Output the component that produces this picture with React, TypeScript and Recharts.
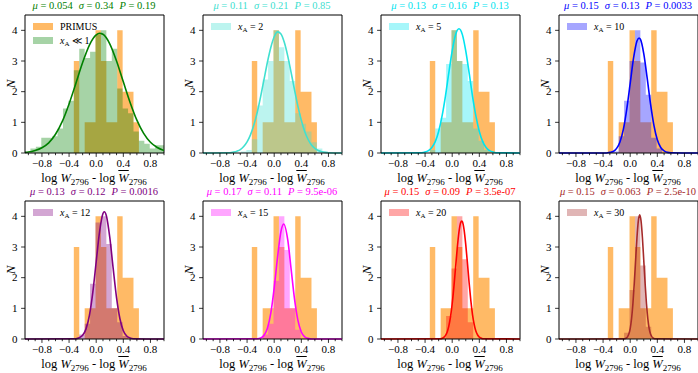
import React from "react"
import { Area, ComposedChart, Legend, Line, ReferenceLine, XAxis, YAxis } from "recharts"

const FONT = "'Liberation Serif', 'Times New Roman', Times, 'DejaVu Serif', serif"

// axis ranges
const X_MIN = -1.05
const X_MAX = 1.0
const Y_MAX = 4.5

const xMajorTicks = [-0.8, -0.4, 0, 0.4, 0.8]
const xAllTicks = [-1.0, -0.9, -0.8, -0.7, -0.6, -0.5, -0.4, -0.3, -0.2, -0.1, 0, 0.1, 0.2, 0.3, 0.4, 0.5, 0.6, 0.7, 0.8, 0.9, 1.0]
const yTicks = [0, 1, 2, 3, 4]

// histogram bin edges (shared by all panels)
const binEdges = [
  -1.05, -0.97, -0.89, -0.81, -0.73, -0.65, -0.57, -0.49, -0.41, -0.33, -0.25, -0.17, -0.09,
  -0.01, 0.07, 0.15, 0.23, 0.31, 0.39, 0.47, 0.55, 0.63, 0.71, 0.79, 0.87, 0.95, 1.03,
]

// observed PRIMUS counts
const primusCounts = [0, 0, 0, 0, 0, 0, 0, 0, 0, 3, 0, 1, 1, 4, 3, 1, 1, 4, 2, 2, 1, 0, 0, 0, 0, 0]

// model histograms (normalised counts)
const modelLow = [0, 0.15, 0.2, 0.5, 0.5, 0.55, 0.8, 1.45, 1.7, 2.7, 3.4, 3.1, 3.3, 3.85, 4.0, 3.0, 3.4, 2.1, 1.45, 1.3, 0.7, 0.4, 0.3, 0.15, 0.25, 0.25]
const model2 = [0, 0, 0, 0, 0, 0, 0, 0.05, 0.1, 0.45, 1.55, 2.4, 3.0, 4.0, 3.45, 3.0, 2.35, 1.3, 0.95, 0.7, 0.35, 0.15, 0.05, 0, 0, 0]
const model5 = [0, 0, 0, 0, 0, 0, 0, 0, 0, 0.1, 0.8, 1.15, 2.9, 4.0, 3.0, 2.9, 2.35, 0.8, 0.4, 0.1, 0, 0, 0, 0, 0, 0]
const model10 = [0, 0, 0, 0, 0, 0, 0, 0, 0, 0, 0.05, 0.55, 1.7, 3.0, 4.0, 2.95, 1.9, 0.5, 0.15, 0, 0, 0, 0, 0, 0, 0]
const model12 = [0, 0, 0, 0, 0, 0, 0, 0, 0, 0, 0.15, 0.5, 1.8, 3.8, 4.0, 3.1, 1.0, 0.55, 0.1, 0, 0, 0, 0, 0, 0, 0]
const model15 = [0, 0, 0, 0, 0, 0, 0, 0, 0, 0, 0, 0.15, 0.5, 1.9, 4.0, 2.9, 1.0, 0.3, 0, 0, 0, 0, 0, 0, 0, 0]
const model20 = [0, 0, 0, 0, 0, 0, 0, 0, 0, 0, 0, 0.05, 0.75, 2.3, 4.0, 2.6, 0.55, 0, 0, 0, 0, 0, 0, 0, 0, 0]
const model30 = [0, 0, 0, 0, 0, 0, 0, 0, 0, 0, 0, 0, 0.2, 1.6, 4.0, 2.4, 0.4, 0, 0, 0, 0, 0, 0, 0, 0, 0]

// fitted curves
const fitLowX = [-1.05, -1.0, -0.9, -0.8, -0.7, -0.6, -0.5, -0.4, -0.3, -0.2, -0.1, 0, 0.05, 0.1, 0.2, 0.3, 0.4, 0.5, 0.6, 0.7, 0.8, 0.9, 1.0]
const fitLowY = [0.02, 0.03, 0.08, 0.17, 0.33, 0.61, 1.03, 1.6, 2.27, 2.95, 3.52, 3.85, 3.9, 3.87, 3.56, 3.0, 2.32, 1.65, 1.07, 0.64, 0.35, 0.18, 0.08]
const fit2X = [-1.05, -0.7, -0.65, -0.6, -0.55, -0.5, -0.45, -0.4, -0.35, -0.3, -0.25, -0.2, -0.15, -0.1, -0.05, 0, 0.05, 0.1, 0.15, 0.2, 0.25, 0.3, 0.35, 0.4, 0.45, 0.5, 0.55, 0.6, 0.65, 0.7, 0.75, 0.8, 1.0]
const fit2Y = [0, 0.01, 0.01, 0.03, 0.06, 0.11, 0.21, 0.36, 0.59, 0.91, 1.33, 1.84, 2.4, 2.96, 3.44, 3.79, 3.95, 3.88, 3.6, 3.16, 2.62, 2.06, 1.52, 1.07, 0.7, 0.44, 0.26, 0.15, 0.08, 0.04, 0.02, 0.01, 0]
const fit5X = [-1.05, -0.45, -0.4, -0.35, -0.3, -0.25, -0.2, -0.15, -0.1, -0.05, 0, 0.05, 0.1, 0.15, 0.2, 0.25, 0.3, 0.35, 0.4, 0.45, 0.5, 0.55, 0.6, 0.65, 1.0]
const fit5Y = [0, 0.01, 0.03, 0.08, 0.18, 0.37, 0.7, 1.2, 1.85, 2.61, 3.33, 3.86, 4.05, 3.86, 3.33, 2.61, 1.85, 1.2, 0.7, 0.37, 0.18, 0.08, 0.03, 0.01, 0]
const fit10X = [-1.05, -0.35, -0.3, -0.25, -0.2, -0.15, -0.1, -0.05, 0, 0.05, 0.1, 0.13, 0.15, 0.2, 0.25, 0.3, 0.35, 0.4, 0.45, 0.5, 0.55, 0.6, 1.0]
const fit10Y = [0, 0, 0.02, 0.05, 0.15, 0.37, 0.78, 1.44, 2.27, 3.1, 3.65, 3.75, 3.71, 3.24, 2.45, 1.6, 0.9, 0.43, 0.18, 0.07, 0.02, 0.01, 0]
const fit12X = [-1.05, -0.3, -0.25, -0.2, -0.15, -0.1, -0.05, 0, 0.05, 0.1, 0.12, 0.15, 0.2, 0.25, 0.3, 0.35, 0.4, 0.45, 0.5, 0.55, 1.0]
const fit12Y = [0, 0.01, 0.04, 0.12, 0.33, 0.77, 1.52, 2.52, 3.5, 4.09, 4.15, 4.02, 3.32, 2.31, 1.35, 0.66, 0.27, 0.1, 0.03, 0.01, 0]
const fit15X = [-1.05, -0.25, -0.2, -0.15, -0.1, -0.05, 0, 0.05, 0.1, 0.14, 0.2, 0.25, 0.3, 0.35, 0.4, 0.45, 0.5, 0.55, 1.0]
const fit15Y = [0, 0.01, 0.03, 0.12, 0.35, 0.84, 1.67, 2.68, 3.51, 3.75, 3.23, 2.27, 1.3, 0.61, 0.23, 0.07, 0.02, 0, 0]
const fit20X = [-1.05, -0.175, -0.15, -0.125, -0.1, -0.075, -0.05, -0.025, 0, 0.025, 0.05, 0.075, 0.1, 0.125, 0.14, 0.15, 0.175, 0.2, 0.225, 0.25, 0.275, 0.3, 0.325, 0.35, 0.375, 0.4, 0.425, 0.45, 1.0]
const fit20Y = [0, 0.01, 0.02, 0.05, 0.11, 0.22, 0.42, 0.72, 1.15, 1.7, 2.34, 2.97, 3.49, 3.8, 3.85, 3.83, 3.57, 3.08, 2.47, 1.82, 1.25, 0.79, 0.47, 0.25, 0.13, 0.06, 0.03, 0.01, 0]
const fit30X = [-1.05, -0.08, -0.06, -0.04, -0.02, 0, 0.02, 0.04, 0.06, 0.08, 0.1, 0.12, 0.14, 0.16, 0.18, 0.2, 0.22, 0.24, 0.26, 0.28, 0.3, 0.32, 0.34, 0.36, 1.0]
const fit30Y = [0, 0.01, 0.03, 0.07, 0.16, 0.34, 0.66, 1.15, 1.81, 2.57, 3.31, 3.85, 4.05, 3.85, 3.31, 2.57, 1.81, 1.15, 0.66, 0.34, 0.16, 0.07, 0.03, 0.01, 0]

// panel titles and legend labels
const muLabels = ["0.054", "0.11", "0.13", "0.15", "0.13", "0.17", "0.15", "0.15"]
const sigmaLabels = ["0.34", "0.21", "0.16", "0.13", "0.12", "0.11", "0.09", "0.063"]
const pLabels = ["0.19", "0.85", "0.13", "0.0033", "0.0016", "9.5e-06", "3.5e-07", "2.5e-10"]
const xaLabels = ["\u226A 1", "= 2", "= 5", "= 10", "= 12", "= 15", "= 20", "= 30"]
const panelColors = ["#008000", "#40e0d0", "#00e4f0", "#0000ff", "#800080", "#ff00ff", "#ff0000", "#a52a2a"]

const modelSeries = [modelLow, model2, model5, model10, model12, model15, model20, model30]
const fitXs = [fitLowX, fit2X, fit5X, fit10X, fit12X, fit15X, fit20X, fit30X]
const fitYs = [fitLowY, fit2Y, fit5Y, fit10Y, fit12Y, fit15Y, fit20Y, fit30Y]

const ORANGE = "#ff8c00"
const ORANGE_OP = 0.6
const MODEL_OP = 0.35

// layout
const colLeft = [24.5, 202.5, 380.5, 558.5]
const rowTop = [14.5, 200.5]
const PLOT_W = 139
const PLOT_H = 138
const Y_AXIS_W = 30
const X_AXIS_H = 20
const M_TOP = 2
const M_RIGHT = 4

function buildRows(model: number[], fx: number[], fy: number[]) {
  const rows: any[] = []
  binEdges.forEach((e, i) => {
    const j = Math.min(i, primusCounts.length - 1)
    rows.push({ x: e, obs: primusCounts[j], model: model[j] })
  })
  fx.forEach((x, i) => rows.push({ x, fit: fy[i] }))
  rows.sort((a, b) => a.x - b.x)
  return rows
}

const fmtX = (v: number) => (Math.abs(v) < 1e-9 ? "0.0" : (v < 0 ? "\u2212" : "") + Math.abs(v).toFixed(1))

function XTick(props: any) {
  const { x, y, payload } = props
  const major = xMajorTicks.some((t) => Math.abs(t - payload.value) < 1e-6)
  return (
    <g>
      <line x1={x} x2={x} y1={y} y2={y + (major ? 3.9 : 2.2)} stroke="#000" strokeWidth={0.8} />
      {major && (
        <text x={x} y={y + 14} textAnchor="middle" style={{ fontSize: 11, fontFamily: FONT }} fill="#000">
          {fmtX(payload.value)}
        </text>
      )}
    </g>
  )
}

function YTick(props: any) {
  const { x, y, payload } = props
  return (
    <g>
      <line x1={x} x2={x - 3.9} y1={y} y2={y} stroke="#000" strokeWidth={0.8} />
      <text x={x - 7.5} y={y + 3.7} textAnchor="end" style={{ fontSize: 11, fontFamily: FONT }} fill="#000">
        {payload.value}
      </text>
    </g>
  )
}

function YLabel(props: any) {
  const vb = props.viewBox || {}
  const cx = vb.x + vb.width - 15
  const cy = vb.y + vb.height / 2
  return (
    <text
      x={cx}
      y={cy}
      transform={`rotate(-90 ${cx} ${cy})`}
      textAnchor="middle"
      dominantBaseline="central"
      style={{ fontSize: 13, fontStyle: "italic", fontFamily: FONT }}
      fill="#000"
    >
      N
    </text>
  )
}

const sub = (s: string, size: number, drop: number) => (
  <span style={{ fontSize: size, verticalAlign: -drop, fontStyle: "normal", lineHeight: 0 }}>{s}</span>
)

function LegendBox({ entries }: { entries: any[] }) {
  return (
    <div style={{ fontFamily: FONT, fontSize: 10, color: "#000" }}>
      {entries.map((e, i) => (
        <div key={i} style={{ display: "flex", alignItems: "center", height: 14 }}>
          <span style={{ width: 20, height: 7, background: e.fill, opacity: e.opacity, marginRight: 7, flexShrink: 0 }} />
          <span style={{ whiteSpace: "nowrap" }}>{e.label}</span>
        </div>
      ))}
    </div>
  )
}

function Panel({ index }: { index: number }) {
  const col = index % 4
  const row = Math.floor(index / 4)
  const boxLeft = colLeft[col]
  const boxTop = rowTop[row]
  const color = panelColors[index]
  const rows = buildRows(modelSeries[index], fitXs[index], fitYs[index])

  const modelEntry = {
    fill: color,
    opacity: MODEL_OP,
    label: (
      <>
        <i>x</i>
        {sub("A", 7, 2)} {xaLabels[index]}
      </>
    ),
  }
  const entries = index === 0 ? [{ fill: ORANGE, opacity: ORANGE_OP, label: "PRIMUS" }, modelEntry] : [modelEntry]

  return (
    <>
      <div style={{ position: "absolute", left: boxLeft - Y_AXIS_W, top: boxTop - M_TOP }}>
        <ComposedChart
          width={Y_AXIS_W + PLOT_W + M_RIGHT}
          height={M_TOP + PLOT_H + X_AXIS_H}
          data={rows}
          margin={{ top: M_TOP, right: M_RIGHT, bottom: 0, left: 0 }}
        >
          <XAxis
            type="number"
            dataKey="x"
            domain={[X_MIN, X_MAX]}
            allowDataOverflow
            ticks={xAllTicks}
            interval={0}
            tickSize={0}
            tickMargin={0}
            tickLine={false}
            tick={(p: any) => <XTick {...p} />}
            axisLine={{ stroke: "#000" }}
            height={X_AXIS_H}
          />
          <YAxis
            type="number"
            domain={[0, Y_MAX]}
            ticks={yTicks}
            interval={0}
            tickSize={0}
            tickMargin={0}
            tickLine={false}
            tick={(p: any) => <YTick {...p} />}
            axisLine={{ stroke: "#000" }}
            width={Y_AXIS_W}
            label={(p: any) => <YLabel {...p} />}
          />
          <ReferenceLine y={Y_MAX} stroke="#000" strokeWidth={1} />
          <ReferenceLine x={X_MAX} stroke="#000" strokeWidth={1} />
          <Area
            dataKey="obs"
            type="stepAfter"
            fill={ORANGE}
            fillOpacity={ORANGE_OP}
            stroke="none"
            connectNulls
            isAnimationActive={false}
          />
          <Area
            dataKey="model"
            type="stepAfter"
            fill={color}
            fillOpacity={MODEL_OP}
            stroke="none"
            connectNulls
            isAnimationActive={false}
          />
          <Line
            dataKey="fit"
            type="monotone"
            stroke={color}
            strokeWidth={1.6}
            dot={false}
            connectNulls
            isAnimationActive={false}
          />
          <Legend
            layout="vertical"
            align="center"
            verticalAlign="middle"
            wrapperStyle={{ left: Y_AXIS_W + 8.5, top: M_TOP + 5, width: "auto", height: "auto" }}
            content={() => <LegendBox entries={entries} />}
          />
        </ComposedChart>
      </div>
      <div
        style={{
          position: "absolute",
          left: boxLeft + PLOT_W / 2 - 80,
          width: 160,
          top: boxTop - 13.5,
          textAlign: "center",
          fontSize: 10.5,
          lineHeight: "10px",
          color,
          whiteSpace: "nowrap",
        }}
      >
        <span>
          <i>μ</i> = {muLabels[index]}
        </span>
        <span style={{ marginLeft: 6 }}>
          <i>σ</i> = {sigmaLabels[index]}
        </span>
        <span style={{ marginLeft: 6 }}>
          <i>P</i> = {pLabels[index]}
        </span>
      </div>
      <div
        style={{
          position: "absolute",
          left: boxLeft + PLOT_W / 2 - 90,
          width: 180,
          top: boxTop + PLOT_H + 19.5,
          textAlign: "center",
          fontSize: 12.5,
          lineHeight: "13px",
          color: "#000",
          whiteSpace: "nowrap",
        }}
      >
        log <i>W</i>
        {sub("2796", 9, 2.5)} - log <i style={{ textDecoration: "overline", textDecorationThickness: "1px" }}>W</i>
        {sub("2796", 9, 2.5)}
      </div>
    </>
  )
}

export default function App() {
  return (
    <div
      style={{
        position: "absolute",
        left: 0,
        top: 0,
        width: 698,
        height: 373,
        overflow: "hidden",
        background: "#fff",
        fontFamily: FONT,
      }}
    >
      {modelSeries.map((_, i) => (
        <Panel key={i} index={i} />
      ))}
    </div>
  )
}
